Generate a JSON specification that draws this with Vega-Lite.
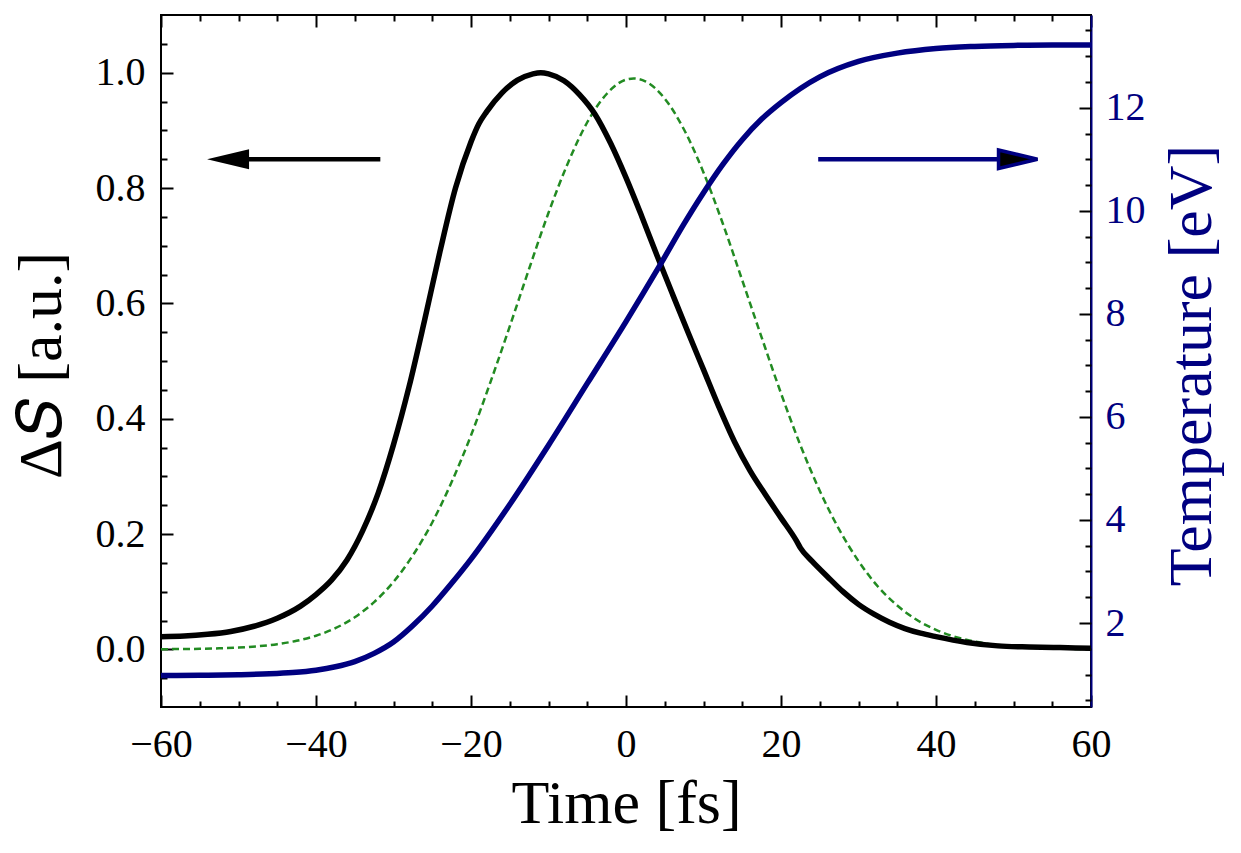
{
  "$schema": "https://vega.github.io/schema/vega-lite/v6.json",
  "width": 930,
  "height": 692,
  "autosize": {"type": "none"},
  "padding": {"left": 161, "top": 15, "right": 150, "bottom": 146},
  "background": "white",
  "config": {
    "view": {"stroke": "black", "strokeWidth": 2},
    "font": "Liberation Serif",
    "axis": {
      "grid": false,
      "domain": false,
      "labelFont": "Liberation Serif",
      "titleFont": "Liberation Serif",
      "labelColor": "black",
      "titleColor": "black",
      "tickColor": "black",
      "tickWidth": 2,
      "labelFontSize": 40,
      "titleFontSize": 62,
      "titleFontWeight": "normal",
      "labelFlush": false,
      "labelOverlap": false,
      "labelBound": false
    }
  },
  "datasets": {
    "green": [
      {"t": -60, "v": 0.0003}, {"t": -57.5, "v": 0.0005}, {"t": -55, "v": 0.0009}, {"t": -52.5, "v": 0.0017},
      {"t": -50, "v": 0.003}, {"t": -47.5, "v": 0.0053}, {"t": -45, "v": 0.009}, {"t": -42.5, "v": 0.0148},
      {"t": -40, "v": 0.0236}, {"t": -37.5, "v": 0.0367}, {"t": -35, "v": 0.0556}, {"t": -32.5, "v": 0.0818},
      {"t": -30, "v": 0.117}, {"t": -27.5, "v": 0.163}, {"t": -25, "v": 0.22}, {"t": -22.5, "v": 0.29},
      {"t": -20, "v": 0.371}, {"t": -17.5, "v": 0.463}, {"t": -15, "v": 0.56}, {"t": -12.5, "v": 0.66},
      {"t": -10, "v": 0.757}, {"t": -7.5, "v": 0.843}, {"t": -5, "v": 0.914}, {"t": -2.5, "v": 0.963},
      {"t": 0, "v": 0.988}, {"t": 1, "v": 0.99}, {"t": 2.5, "v": 0.985}, {"t": 5, "v": 0.955},
      {"t": 7.5, "v": 0.901}, {"t": 10, "v": 0.827}, {"t": 12.5, "v": 0.738}, {"t": 15, "v": 0.64},
      {"t": 17.5, "v": 0.541}, {"t": 20, "v": 0.444}, {"t": 22.5, "v": 0.354}, {"t": 25, "v": 0.275},
      {"t": 27.5, "v": 0.208}, {"t": 30, "v": 0.153}, {"t": 32.5, "v": 0.109}, {"t": 35, "v": 0.0759},
      {"t": 37.5, "v": 0.0513}, {"t": 40, "v": 0.0337}, {"t": 42.5, "v": 0.0216}, {"t": 45, "v": 0.0134},
      {"t": 47.5, "v": 0.0081}, {"t": 50, "v": 0.0048}, {"t": 52.5, "v": 0.0027}, {"t": 55, "v": 0.0015},
      {"t": 57.5, "v": 0.0008}, {"t": 60, "v": 0.0004}
    ],
    "black": [
      {"t": -60, "v": 0.022}, {"t": -57, "v": 0.023}, {"t": -54, "v": 0.026}, {"t": -51, "v": 0.031},
      {"t": -48, "v": 0.04}, {"t": -45, "v": 0.054}, {"t": -42, "v": 0.075}, {"t": -40, "v": 0.095},
      {"t": -38, "v": 0.12}, {"t": -36, "v": 0.155}, {"t": -34, "v": 0.205}, {"t": -32, "v": 0.27},
      {"t": -30, "v": 0.355}, {"t": -28, "v": 0.455}, {"t": -26, "v": 0.57}, {"t": -24, "v": 0.69},
      {"t": -22, "v": 0.8}, {"t": -20, "v": 0.88}, {"t": -19, "v": 0.911}, {"t": -18, "v": 0.932},
      {"t": -16, "v": 0.965}, {"t": -14, "v": 0.987}, {"t": -12, "v": 0.998}, {"t": -11, "v": 1.0},
      {"t": -10, "v": 0.998}, {"t": -8, "v": 0.986}, {"t": -6, "v": 0.962}, {"t": -4, "v": 0.928},
      {"t": -2, "v": 0.878}, {"t": 0, "v": 0.818}, {"t": 2, "v": 0.752}, {"t": 4, "v": 0.683},
      {"t": 6, "v": 0.616}, {"t": 8, "v": 0.55}, {"t": 10, "v": 0.485}, {"t": 12, "v": 0.42},
      {"t": 14, "v": 0.36}, {"t": 16, "v": 0.31}, {"t": 18, "v": 0.268}, {"t": 20, "v": 0.228},
      {"t": 22, "v": 0.188}, {"t": 22.5, "v": 0.176}, {"t": 24, "v": 0.153}, {"t": 26, "v": 0.126},
      {"t": 28, "v": 0.1}, {"t": 30, "v": 0.078}, {"t": 32, "v": 0.061}, {"t": 34, "v": 0.047},
      {"t": 36, "v": 0.036}, {"t": 38, "v": 0.028}, {"t": 40, "v": 0.022}, {"t": 44, "v": 0.012},
      {"t": 48, "v": 0.006}, {"t": 52, "v": 0.004}, {"t": 56, "v": 0.003}, {"t": 60, "v": 0.002}
    ],
    "blue": [
      {"t": -60, "T": 0.98}, {"t": -55, "T": 0.985}, {"t": -50, "T": 0.997}, {"t": -46, "T": 1.015},
      {"t": -43, "T": 1.04}, {"t": -40, "T": 1.085}, {"t": -37.5, "T": 1.15}, {"t": -35, "T": 1.25},
      {"t": -32.5, "T": 1.41}, {"t": -30, "T": 1.63}, {"t": -27.5, "T": 1.95}, {"t": -25, "T": 2.33},
      {"t": -22.5, "T": 2.77}, {"t": -20, "T": 3.24}, {"t": -15, "T": 4.3}, {"t": -10, "T": 5.45},
      {"t": -5, "T": 6.65}, {"t": 0, "T": 7.85}, {"t": 4.4, "T": 8.95}, {"t": 7.5, "T": 9.75},
      {"t": 10, "T": 10.35}, {"t": 12.5, "T": 10.9}, {"t": 15, "T": 11.38}, {"t": 17.5, "T": 11.78},
      {"t": 20, "T": 12.1}, {"t": 25, "T": 12.6}, {"t": 30, "T": 12.9},
      {"t": 35, "T": 13.06}, {"t": 40, "T": 13.15}, {"t": 45, "T": 13.19}, {"t": 50, "T": 13.21},
      {"t": 55, "T": 13.22}, {"t": 60, "T": 13.22}
    ],
    "arrowBlackLine": [{"t": -31.7, "v": 0.85}, {"t": -50, "v": 0.85}],
    "arrowBlackHead": [{"t": -54.06, "v": 0.85}],
    "arrowBlueLine": [{"t": 24.8, "T": 11.0}, {"t": 50, "T": 11.0}],
    "arrowBlueHead": [{"t": 53.1, "T": 11.0}]
  },
  "resolve": {
    "scale": {"x": "independent", "y": "independent"},
    "axis": {"x": "independent", "y": "independent"}
  },
  "layer": [
    {
      "data": {"name": "green"},
      "mark": {"type": "line", "color": "#228B22", "strokeWidth": 2.5, "strokeDash": [7, 4], "interpolate": "monotone"},
      "encoding": {
        "x": {"field": "t", "type": "quantitative", "scale": {"domain": [-60, 60], "nice": false, "zero": false},
          "axis": {"orient": "bottom", "values": [-60, -40, -20, 0, 20, 40, 60], "ticks": false, "labelPadding": 17,
            "title": "Time [fs]", "titleX": 465, "titleY": 115, "titleBaseline": "alphabetic", "titleAlign": "center", "titleFontSize": 62}},
        "y": {"field": "v", "type": "quantitative", "scale": {"domain": [-0.1, 1.1], "nice": false, "zero": false},
          "axis": {"orient": "left", "values": [0, 0.2, 0.4, 0.6, 0.8, 1.0], "format": ".1f", "ticks": false, "labelPadding": 16,
            "title": "Δ𝑆 [a.u.]", "titleAngle": 270, "titleX": -101, "titleY": 350, "titleBaseline": "alphabetic", "titleAlign": "center"}}
      }
    },
    {
      "data": {"name": "black"},
      "mark": {"type": "line", "color": "black", "strokeWidth": 5.5, "interpolate": "monotone"},
      "encoding": {
        "x": {"field": "t", "type": "quantitative", "scale": {"domain": [-60, 60], "nice": false, "zero": false},
          "axis": {"orient": "bottom", "values": [-60, -40, -20, 0, 20, 40, 60], "labels": false, "tickSize": 12, "offset": -12, "title": null}},
        "y": {"field": "v", "type": "quantitative", "scale": {"domain": [-0.1, 1.1], "nice": false, "zero": false},
          "axis": {"orient": "left", "values": [0, 0.2, 0.4, 0.6, 0.8, 1.0], "labels": false, "tickSize": 12, "offset": -12, "title": null}}
      }
    },
    {
      "data": {"name": "arrowBlackLine"},
      "mark": {"type": "line", "color": "black", "strokeWidth": 4.5},
      "encoding": {
        "x": {"field": "t", "type": "quantitative", "scale": {"domain": [-60, 60], "nice": false, "zero": false},
          "axis": {"orient": "bottom", "values": [-55, -50, -45, -35, -30, -25, -15, -10, -5, 5, 10, 15, 25, 30, 35, 45, 50, 55], "labels": false, "tickSize": 6, "offset": -6, "title": null}},
        "y": {"field": "v", "type": "quantitative", "scale": {"domain": [-0.1, 1.1], "nice": false, "zero": false},
          "axis": {"orient": "left", "values": [-0.05, 0.05, 0.1, 0.15, 0.25, 0.3, 0.35, 0.45, 0.5, 0.55, 0.65, 0.7, 0.75, 0.85, 0.9, 0.95, 1.05], "labels": false, "tickSize": 6, "offset": -6, "title": null}}
      }
    },
    {
      "data": {"name": "arrowBlackHead"},
      "mark": {"type": "point", "shape": "M 0 0 L 2 -0.476 L 2 0.476 Z", "size": 1764, "filled": true, "fill": "black", "opacity": 1, "strokeWidth": 0},
      "encoding": {
        "x": {"field": "t", "type": "quantitative", "scale": {"domain": [-60, 60], "nice": false, "zero": false},
          "axis": {"orient": "top", "values": [-60, -40, -20, 0, 20, 40, 60], "labels": false, "tickSize": 12, "offset": -12, "title": null}},
        "y": {"field": "v", "type": "quantitative", "scale": {"domain": [-0.1, 1.1], "nice": false, "zero": false}, "axis": null}
      }
    },
    {
      "data": {"name": "blue"},
      "mark": {"type": "line", "color": "#000080", "strokeWidth": 5.5, "interpolate": "monotone"},
      "encoding": {
        "x": {"field": "t", "type": "quantitative", "scale": {"domain": [-60, 60], "nice": false, "zero": false},
          "axis": {"orient": "top", "values": [-55, -50, -45, -35, -30, -25, -15, -10, -5, 5, 10, 15, 25, 30, 35, 45, 50, 55], "labels": false, "tickSize": 6, "offset": -6, "title": null}},
        "y": {"field": "T", "type": "quantitative", "scale": {"domain": [0.37, 13.8], "nice": false, "zero": false},
          "axis": {"orient": "right", "values": [2, 4, 6, 8, 10, 12], "format": "d", "ticks": false, "domain": true, "domainColor": "#000080", "domainWidth": 2,
            "labelColor": "#000080", "labelPadding": 14,
            "title": "Temperature [eV]", "titleColor": "#000080", "titleAngle": 270, "titleX": 119, "titleY": 350, "titleBaseline": "alphabetic", "titleAlign": "center"}}
      }
    },
    {
      "data": {"name": "arrowBlueLine"},
      "mark": {"type": "line", "color": "#000080", "strokeWidth": 4.5},
      "encoding": {
        "x": {"field": "t", "type": "quantitative", "scale": {"domain": [-60, 60], "nice": false, "zero": false}, "axis": null},
        "y": {"field": "T", "type": "quantitative", "scale": {"domain": [0.37, 13.8], "nice": false, "zero": false},
          "axis": {"orient": "right", "values": [2, 4, 6, 8, 10, 12], "labels": false, "tickSize": 12, "offset": -12, "title": null}}
      }
    },
    {
      "data": {"name": "arrowBlueHead"},
      "mark": {"type": "point", "shape": "M 0 0 L -2 -0.476 L -2 0.476 Z", "size": 1521, "filled": true, "fill": "black", "stroke": "#000080", "strokeWidth": 3.5, "opacity": 1},
      "encoding": {
        "x": {"field": "t", "type": "quantitative", "scale": {"domain": [-60, 60], "nice": false, "zero": false}, "axis": null},
        "y": {"field": "T", "type": "quantitative", "scale": {"domain": [0.37, 13.8], "nice": false, "zero": false},
          "axis": {"orient": "right", "values": [0.5, 1, 1.5, 2.5, 3, 3.5, 4.5, 5, 5.5, 6.5, 7, 7.5, 8.5, 9, 9.5, 10.5, 11, 11.5, 12.5, 13, 13.5], "labels": false, "tickSize": 6, "offset": -6, "title": null}}
      }
    }
  ]
}
